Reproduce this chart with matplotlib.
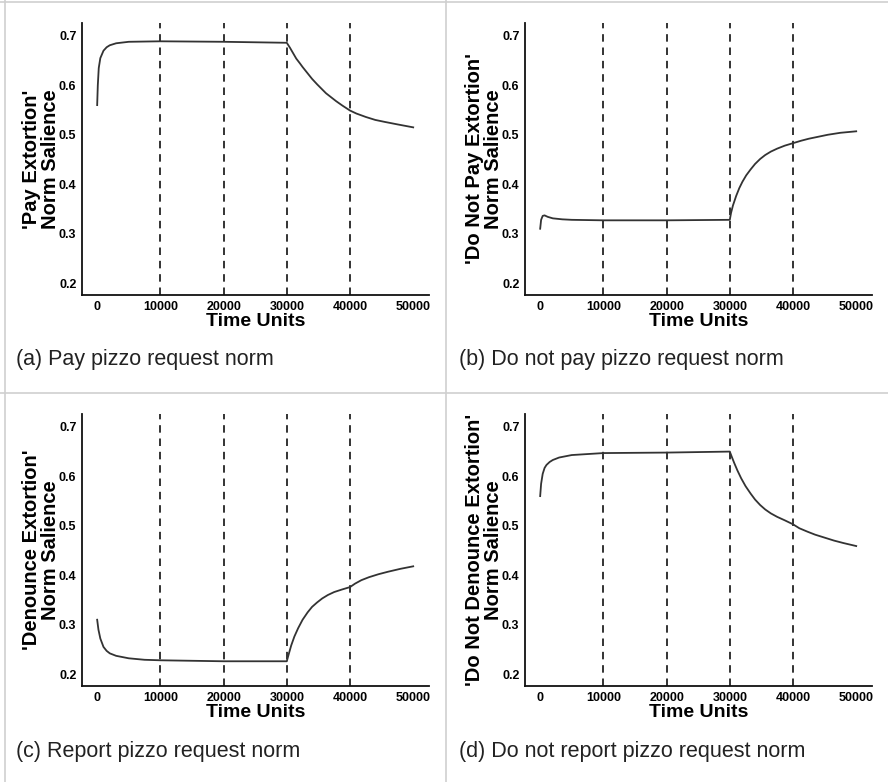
import matplotlib
matplotlib.use('Agg')
import matplotlib.pyplot as plt
from matplotlib.lines import Line2D

plt.rcParams['font.family'] = ['Liberation Sans', 'DejaVu Sans']

# sampled simulation output: time units and norm salience per norm
time_a = [0, 100, 250, 500, 1000, 1500, 2000, 3000, 5000, 10000, 20000, 30000,
          30500, 31000, 31500, 32100, 32500, 33000, 33500, 34000, 34800, 35500, 36200,
          37000, 37800, 38800, 40000, 41000, 42500, 44000, 45500, 47500, 50000]
pay = [0.56, 0.60, 0.635, 0.655, 0.670, 0.677, 0.681, 0.685, 0.688, 0.689, 0.688, 0.686,
       0.676, 0.665, 0.654, 0.644, 0.637, 0.629, 0.621, 0.613, 0.602, 0.593, 0.584,
       0.576, 0.568, 0.559, 0.549, 0.543, 0.536, 0.530, 0.526, 0.521, 0.515]

time_b = [0, 150, 400, 700, 1200, 2000, 3500, 5000, 10000, 20000, 30000,
          30200, 30500, 31000, 31500, 32000, 32600, 33300, 34000, 34800, 35600, 36500,
          37500, 38700, 40000, 41300, 42500, 44000, 45500, 47500, 50000]
not_pay = [0.31, 0.328, 0.336, 0.337, 0.334, 0.331, 0.329, 0.328, 0.327, 0.327, 0.328,
           0.342, 0.357, 0.376, 0.392, 0.405, 0.418, 0.430, 0.441, 0.451, 0.459, 0.466,
           0.472, 0.478, 0.483, 0.488, 0.492, 0.496, 0.500, 0.504, 0.507]

time_c = [0, 200, 500, 1000, 1500, 2000, 3000, 5000, 7500, 10000, 20000, 30000,
          30300, 30700, 31200, 31800, 32500, 33300, 34000, 34800, 35600, 36500, 37500,
          38700, 40000, 40800, 41800, 43000, 44500, 46000, 48000, 50000]
report = [0.31, 0.29, 0.272, 0.255, 0.247, 0.242, 0.237, 0.232, 0.229, 0.228, 0.226, 0.226,
          0.240, 0.258, 0.276, 0.293, 0.310, 0.325, 0.336, 0.345, 0.353, 0.360, 0.366,
          0.371, 0.376, 0.383, 0.390, 0.396, 0.402, 0.407, 0.413, 0.418]

time_d = [0, 150, 400, 700, 1000, 1500, 2000, 3000, 5000, 10000, 20000, 30000,
          30300, 30700, 31200, 31800, 32500, 33300, 34000, 34800, 35600, 36500, 37500,
          38700, 40000, 41000, 42300, 43500, 45000, 46500, 48000, 50000]
not_report = [0.56, 0.585, 0.605, 0.617, 0.623, 0.629, 0.633, 0.638, 0.643, 0.647, 0.648, 0.650,
              0.640, 0.627, 0.612, 0.596, 0.580, 0.565, 0.553, 0.542, 0.533, 0.525, 0.518,
              0.511, 0.503, 0.495, 0.488, 0.482, 0.476, 0.470, 0.465, 0.459]

phase_marks = [10000, 20000, 30000, 40000]
x_ticks = [0, 10000, 20000, 30000, 40000, 50000]
y_ticks = [0.2, 0.3, 0.4, 0.5, 0.6, 0.7]

panels = [
    (time_a, pay, "'Pay Extortion'\nNorm Salience", "(a) Pay pizzo request norm"),
    (time_b, not_pay, "'Do Not Pay Extortion'\nNorm Salience", "(b) Do not pay pizzo request norm"),
    (time_c, report, "'Denounce Extortion'\nNorm Salience", "(c) Report pizzo request norm"),
    (time_d, not_report, "'Do Not Denounce Extortion'\nNorm Salience", "(d) Do not report pizzo request norm"),
]

W, H = 888, 782
fig = plt.figure(figsize=(W / 100, H / 100), dpi=100)
fig.patch.set_facecolor('white')

# pixel origins of each cell (left, top)
cells = [(0, 0), (443, 0), (0, 391), (443, 391)]

for (t, v, ylab, caption), (cx, cy) in zip(panels, cells):
    left, right, top, bottom = cx + 82, cx + 429, cy + 23, cy + 295
    ax = fig.add_axes([left / W, 1 - bottom / H, (right - left) / W, (bottom - top) / H])
    for xv in phase_marks:
        ax.axvline(xv, color='#111111', lw=1.2, linestyle=(0, (4.5, 3.5)))
    ax.plot(t, v, color='#333333', lw=1.3)

    ax.set_xlim(-2400, 52500)
    ax.set_ylim(0.176, 0.726)
    ax.set_xticks(x_ticks)
    ax.set_yticks(y_ticks)
    ax.set_xticklabels([str(x) for x in x_ticks], fontsize=9, fontweight='bold')
    ax.set_yticklabels(['%.1f' % y for y in y_ticks], fontsize=9, fontweight='bold')
    ax.tick_params(length=0, pad=4)
    for side in ('top', 'right'):
        ax.spines[side].set_visible(False)
    for side in ('left', 'bottom'):
        ax.spines[side].set_linewidth(1.3)
        ax.spines[side].set_color('#111111')

    ax.set_xlabel('Time Units', fontsize=14, fontweight='bold', labelpad=0)
    ax.set_ylabel(ylab, fontsize=14.5, fontweight='bold', linespacing=1.0)
    ax.yaxis.set_label_coords(-0.062, 0.5)

    fig.text((cx + 16) / W, 1 - (cy + 360) / H, caption, fontsize=15.5,
             color='#222222', ha='left', va='center')

# light cell borders
border = '#cfcfcf'
fig.add_artist(Line2D([5 / W, 5 / W], [0, 1], color=border, lw=1.2))
fig.add_artist(Line2D([0, 1], [1 - 2 / H, 1 - 2 / H], color=border, lw=1.2))
fig.add_artist(Line2D([446 / W, 446 / W], [0, 1], color=border, lw=1.2))
fig.add_artist(Line2D([0, 1], [1 - 393 / H, 1 - 393 / H], color=border, lw=1.2))

fig.savefig('out.png', dpi=100)
